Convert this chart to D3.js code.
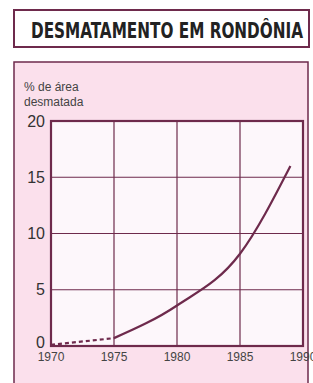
<!DOCTYPE html>
<html>
<head>
<meta charset="utf-8">
<script src="https://cdn.jsdelivr.net/npm/d3@7"></script>
<style>
    body { margin: 0; background: #fff; }
    svg { display: block; }
</style>
</head>
<body>
<div id="chart"></div>
<script>
    // data
    var years = [1970, 1975, 1980, 1985, 1989];
    var values = [0.1, 0.7, 3.6, 8.2, 16];
    var dashedUntil = 1975; // first stretch is estimated, drawn dashed
    var xTicks = [1970, 1975, 1980, 1985, 1990];
    var yTicks = [0, 5, 10, 15, 20];
    var title = "DESMATAMENTO EM RONDÔNIA";
    var yTitle = ["% de área", "desmatada"];

    var W = 313, H = 383;
    var maroon = "#6e2a4c",
        pink = "#fbe0ec";

    var svg = d3.select("#chart")
        .append("svg")
        .attr("width", W)
        .attr("height", H);

    // title box
    svg.append("rect")
        .attr("x", 14).attr("y", 10)
        .attr("width", 295).attr("height", 37)
        .attr("fill", "#fff")
        .attr("stroke", maroon)
        .attr("stroke-width", 2);

    svg.append("text")
        .attr("x", 167).attr("y", 38)
        .attr("text-anchor", "middle")
        .attr("font-family", "'Liberation Sans Narrow', 'DejaVu Sans Condensed', Roboto, sans-serif")
        .attr("font-weight", "bold")
        .attr("font-size", 21)
        .attr("fill", "#222")
        .attr("textLength", 272)
        .attr("lengthAdjust", "spacingAndGlyphs")
        .text(title);

    // pink panel
    svg.append("rect")
        .attr("x", 14).attr("y", 62)
        .attr("width", 294).attr("height", H - 62 + 2)
        .attr("fill", pink)
        .attr("stroke", maroon)
        .attr("stroke-width", 1.5);

    var margin = {top: 121, left: 51, right: 10, bottom: 37},
        width = W - margin.left - margin.right,
        height = H - margin.top - margin.bottom;

    var x = d3.scaleLinear()
        .domain([1970, 1990])
        .range([margin.left, margin.left + width]);

    var y = d3.scaleLinear()
        .domain([0, 20])
        .range([margin.top + height, margin.top]);

    // plot area
    svg.append("rect")
        .attr("x", x(1970)).attr("y", y(20))
        .attr("width", x(1990) - x(1970))
        .attr("height", y(0) - y(20))
        .attr("fill", "#fdf7fb");

    // grid
    svg.append("g")
        .selectAll("line")
        .data(yTicks).enter()
        .append("line")
        .attr("x1", x(1970)).attr("x2", x(1990))
        .attr("y1", function(d){ return y(d); })
        .attr("y2", function(d){ return y(d); })
        .attr("stroke", maroon)
        .attr("stroke-width", 1.2);

    svg.append("g")
        .selectAll("line")
        .data(xTicks).enter()
        .append("line")
        .attr("y1", y(0)).attr("y2", y(20))
        .attr("x1", function(d){ return x(d); })
        .attr("x2", function(d){ return x(d); })
        .attr("stroke", maroon)
        .attr("stroke-width", 1.2);

    // frame
    svg.append("rect")
        .attr("x", x(1970)).attr("y", y(20))
        .attr("width", x(1990) - x(1970))
        .attr("height", y(0) - y(20))
        .attr("fill", "none")
        .attr("stroke", maroon)
        .attr("stroke-width", 2.2);

    // y axis labels
    svg.append("g")
        .selectAll("text")
        .data(yTicks).enter()
        .append("text")
        .attr("x", 45)
        .attr("y", function(d){ return d === 0 ? y(d) - 4 : y(d); })
        .attr("dy", "0.35em")
        .attr("text-anchor", "end")
        .attr("font-family", "'Liberation Sans', Arial, sans-serif")
        .attr("font-size", 16)
        .attr("fill", "#333")
        .text(function(d){ return d; });

    svg.append("g")
        .selectAll("text")
        .data(yTitle).enter()
        .append("text")
        .attr("x", 24)
        .attr("y", function(d, i){ return 91 + i * 15; })
        .attr("font-family", "'Liberation Sans', Arial, sans-serif")
        .attr("font-size", 12)
        .attr("fill", "#444")
        .text(function(d){ return d; });

    // x axis labels
    svg.append("g")
        .selectAll("text")
        .data(xTicks).enter()
        .append("text")
        .attr("x", function(d){ return x(d); })
        .attr("y", y(0) + 15)
        .attr("text-anchor", "middle")
        .attr("font-family", "'Liberation Sans Narrow', 'Liberation Sans', sans-serif")
        .attr("font-size", 12)
        .attr("fill", "#444")
        .text(function(d){ return d; });

    // line
    var data = years.map(function(d, i){ return {year: d, value: values[i]}; });

    var line = d3.line()
        .x(function(d){ return x(d.year); })
        .y(function(d){ return y(d.value); })
        .curve(d3.curveMonotoneX);

    svg.append("path")
        .datum(data.filter(function(d){ return d.year <= dashedUntil; }))
        .attr("d", line)
        .attr("fill", "none")
        .attr("stroke", maroon)
        .attr("stroke-width", 2.2)
        .attr("stroke-dasharray", "4,3");

    svg.append("path")
        .datum(data.filter(function(d){ return d.year >= dashedUntil; }))
        .attr("d", line)
        .attr("fill", "none")
        .attr("stroke", maroon)
        .attr("stroke-width", 2.2);
</script>
</body>
</html>
